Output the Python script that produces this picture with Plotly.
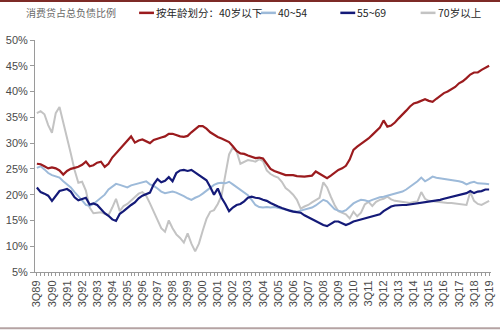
import plotly.graph_objects as go

# Quarterly share of consumer credit in total liabilities, by age group (%)
quarters = [f"{q}Q{(y % 100):02d}" for y in range(1989, 2020) for q in (1, 2, 3, 4)][2:123]

tick_labels = ["3Q89", "3Q90", "3Q91", "3Q92", "3Q93", "3Q94", "3Q95", "3Q96",
               "3Q97", "3Q98", "3Q99", "3Q00", "3Q01", "3Q02", "3Q03", "3Q04",
               "3Q05", "3Q06", "3Q07", "3Q08", "3Q09", "3Q10", "3Q11", "3Q12",
               "3Q13", "3Q14", "3Q15", "3Q16", "3Q17", "3Q18", "3Q19"]

under_40 = [26.0, 25.9, 25.5, 25.1, 25.3, 25.1, 24.7, 23.9, 24.6, 25.0,
            25.2, 25.4, 25.8, 26.4, 25.5, 25.7, 26.2, 26.4, 25.4, 26.0,
            27.2, 28.0, 28.9, 29.5, 30.5, 31.3, 30.1, 30.5, 30.7, 30.3,
            30.0, 30.6, 30.9, 31.1, 31.3, 31.8, 31.8, 31.5, 31.3, 31.2,
            31.4, 32.1, 32.7, 33.3, 33.3, 32.8, 32.1, 31.6, 31.2, 30.9,
            30.5, 30.2, 29.4, 28.5, 28.0, 27.9, 27.6, 27.4, 27.1, 27.2,
            27.0, 26.0, 25.0, 24.6, 24.3, 24.1, 23.8, 23.8, 23.8, 23.6,
            23.5, 23.5, 23.6, 23.7, 24.5, 24.1, 23.7, 23.2, 23.7, 24.3,
            24.8, 25.1, 25.6, 26.8, 28.7, 29.3, 29.8, 30.3, 30.9, 31.6,
            32.3, 33.0, 34.4, 33.2, 33.4, 34.0, 34.8, 35.5, 36.3, 37.1,
            37.7, 37.9, 38.2, 38.5, 38.2, 38.0, 38.6, 39.2, 39.7, 40.0,
            40.4, 40.9, 41.6, 42.0, 42.6, 43.3, 43.7, 43.7, 44.2, 44.6,
            45.0]

age_40_54 = [25.2, 25.5, 24.9, 24.2, 23.8, 23.6, 23.3, 22.6, 22.0, 21.4,
             20.5, 19.8, 18.9, 18.0, 17.8, 18.2, 18.8, 19.3, 20.0, 21.0,
             21.6, 22.1, 21.9, 21.6, 21.4, 21.8, 22.0, 22.1, 22.4, 22.6,
             22.0, 21.7, 21.2, 20.6, 20.3, 20.5, 20.6, 20.4, 20.1, 19.7,
             19.3, 19.0, 19.4, 19.7, 20.2, 20.8, 21.4, 21.9, 22.2, 22.3,
             22.2, 22.5, 22.0, 21.5, 21.0, 20.5, 19.9, 19.0, 18.0, 17.6,
             17.5, 17.6, 17.5, 17.6, 17.4, 17.3, 17.1, 17.0, 16.8, 16.7,
             16.9, 17.1, 17.3, 17.5, 17.9, 18.5, 19.0, 18.7, 17.9, 17.2,
             16.9, 16.7, 17.0, 17.6, 18.3, 18.7, 19.0, 18.9, 18.7, 19.0,
             19.3, 19.5, 19.6, 19.8, 20.0, 20.2, 20.3, 20.6, 21.0, 21.5,
             22.1, 22.6, 23.3, 22.6, 23.0, 23.5, 23.3, 23.2, 23.1, 23.0,
             22.8, 22.7, 22.6, 22.4, 22.0, 22.3, 22.5, 22.2, 22.2, 22.1,
             22.0]

age_55_69 = [21.4, 20.5, 20.2, 19.8, 18.8, 19.8, 20.7, 20.9, 21.1, 20.6,
             19.5, 18.9, 19.2, 19.4, 18.1, 18.3, 18.0, 17.3, 16.4, 15.9,
             15.2, 14.9, 16.3, 16.8, 17.5, 18.0, 18.5, 19.3, 19.8, 20.1,
             20.4, 22.0, 23.0, 22.4, 22.7, 23.4, 22.6, 24.2, 24.7, 24.8,
             24.6, 24.8, 24.3, 23.8, 23.3, 22.8, 21.5, 20.0, 21.2, 19.4,
             18.2, 16.8, 17.5, 18.0, 18.2, 18.7, 19.4, 19.6, 19.4, 19.3,
             19.0, 18.8, 18.4, 18.0, 17.7, 17.4, 17.1, 16.9, 16.7, 16.6,
             16.5, 16.0, 15.6, 15.3, 14.9, 14.4, 14.1, 13.9, 14.3, 14.8,
             14.8, 14.5, 14.1, 14.4, 14.8, 15.0, 15.2, 15.4, 15.5, 15.7,
             15.9, 16.2, 16.8, 17.3, 17.7, 17.9, 18.0, 18.0, 18.0, 18.1,
             18.2, 18.3, 18.4, 18.6, 18.7, 18.7, 18.9, 19.0, 19.2, 19.4,
             19.5, 19.7, 19.9, 20.1, 20.3, 20.7, 20.3, 20.6, 20.7, 21.0,
             21.0]

over_70 = [35.8, 36.2, 35.6, 33.5, 32.0, 35.8, 37.0, 34.0, 31.5, 28.0,
           24.8, 22.3, 22.5, 20.8, 17.5, 16.4, 16.5, 16.6, 16.3, 16.0,
           17.5, 19.2, 16.8, 17.8, 18.2, 18.9, 19.6, 20.2, 20.5, 19.8,
           18.3, 16.8, 15.2, 13.5, 12.8, 15.0, 13.5, 12.3, 11.6, 10.7,
           12.5, 10.5, 9.0, 10.5, 13.0, 15.3, 16.7, 17.0, 18.2, 19.8,
           23.8, 27.8, 29.2, 28.4, 26.0, 26.4, 26.7, 26.6, 26.4, 26.9,
           26.5, 24.7, 24.0, 23.6, 23.3, 22.5, 21.3, 20.7, 20.0, 19.0,
           17.3, 17.7, 18.0, 18.5, 18.9, 19.4, 22.4, 21.4, 19.6, 18.0,
           16.8, 16.5, 16.2, 15.4, 16.7, 15.8, 16.5, 18.1, 18.6, 17.8,
           18.6, 19.0, 19.2, 19.6, 19.1, 18.8, 18.7, 18.7, 18.6, 18.4,
           18.6, 18.7, 20.5, 19.2, 18.8, 18.7, 18.6, 18.6, 18.5, 18.4,
           18.4, 18.3, 18.2, 18.1, 18.0, 20.5, 18.8, 18.2, 18.0, 18.4,
           18.8]

series_names = ["按年龄划分：40岁以下", "40~54", "55~69", "70岁以上"]
series_values = [under_40, age_40_54, age_55_69, over_70]
series_colors = ["#9b1b1e", "#9dbad9", "#141a78", "#c3c3c3"]
series_widths = [2.2, 2.0, 2.2, 2.0]

fig = go.Figure()
# draw grey first so the darker lines sit on top
for k in (3, 1, 2, 0):
    fig.add_trace(go.Scatter(
        x=quarters, y=series_values[k], mode="lines", name=series_names[k],
        line=dict(color=series_colors[k], width=series_widths[k]),
        showlegend=False, hoverinfo="skip"))

tick_font = dict(family="Liberation Sans, Arial, sans-serif", size=11, color="#4a4a4a")
cjk = "Noto Sans CJK SC, sans-serif"

fig.update_layout(
    width=500, height=330,
    margin=dict(l=35, r=5, t=40, b=58),
    paper_bgcolor="white", plot_bgcolor="white",
    xaxis=dict(
        type="category", range=[-0.5, 120.5],
        tickmode="array", tickvals=tick_labels, ticktext=tick_labels,
        tickangle=-90, tickfont=tick_font,
        showline=True, linecolor="#9a9a9a", linewidth=1,
        ticks="outside", ticklen=3, tickcolor="#9a9a9a",
        minor=dict(tickmode="array", tickvals=quarters, ticks="outside",
                   ticklen=3, tickcolor="#9a9a9a"),
        showgrid=False, zeroline=False, fixedrange=True),
    yaxis=dict(
        range=[5, 50], tick0=5, dtick=5, ticksuffix="%", tickfont=tick_font,
        showline=True, linecolor="#9a9a9a", linewidth=1,
        ticks="outside", ticklen=4, tickcolor="#9a9a9a",
        showgrid=False, zeroline=False, fixedrange=True),
)

# chart title
fig.add_annotation(text="消费贷占总负债比例", xref="paper", yref="paper",
                   x=-0.025, y=1.12, xanchor="left", yanchor="middle",
                   showarrow=False,
                   font=dict(family=cjk, size=10, color="#6a6a6a"))

# legend keys and labels
legend_x = [0.2283, 0.4957, 0.6696, 0.8457]
for k in range(4):
    x0 = legend_x[k]
    fig.add_shape(type="line", xref="paper", yref="paper",
                  x0=x0, x1=x0 + 0.0326, y0=1.117, y1=1.117,
                  line=dict(color=series_colors[k], width=2.5))
    fig.add_annotation(text=series_names[k], xref="paper", yref="paper",
                       x=x0 + 0.0326, y=1.12, xanchor="left", yanchor="middle",
                       showarrow=False,
                       font=dict(family=cjk, size=10.5, color="#262626"))

# frame rules across the top and bottom of the page
fig.add_shape(type="line", xref="paper", yref="paper",
              x0=-0.08, x1=1.02, y0=1.1685, y1=1.1685,
              line=dict(color="#7d2a26", width=2))
fig.add_shape(type="line", xref="paper", yref="paper",
              x0=-0.08, x1=1.02, y0=-0.242, y1=-0.242,
              line=dict(color="#b5a3a3", width=2))

fig.write_html("out.html")
